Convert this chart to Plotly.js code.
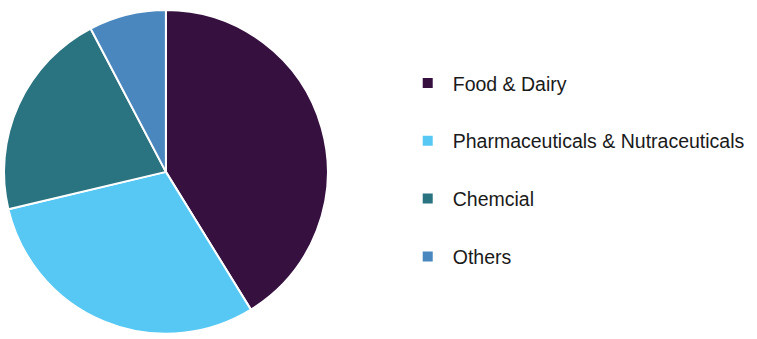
<!DOCTYPE html>
<html>
<head>
<meta charset="utf-8">
<script src="https://cdn.plot.ly/plotly-3.0.1.min.js"></script>
<style>html,body{margin:0;padding:0;background:#fff;}#chart{width:757px;height:339px;}</style>
</head>
<body>
<div id="chart"></div>
<script>
const categories = ["Food & Dairy", "Pharmaceuticals & Nutraceuticals", "Chemcial", "Others"];
const shares = [41.2, 30.1, 21.0, 7.7];
const colors = ["#36103F", "#56C8F3", "#2A7380", "#4A87BE"];

const traces = [{
  type: "pie",
  labels: categories,
  values: shares,
  sort: false,
  direction: "clockwise",
  rotation: 0,
  textinfo: "none",
  hoverinfo: "label+percent",
  marker: {colors: colors, line: {color: "#ffffff", width: 2}},
  domain: {x: [0.0053, 0.433], y: [0.008, 0.978]},
  showlegend: false
}];

categories.forEach((c, i) => {
  traces.push({
    type: "scatter",
    mode: "markers",
    x: [null], y: [null],
    name: c,
    legendgroup: "g" + i,
    marker: {symbol: "square", size: 10, color: colors[i]},
    showlegend: true,
    hoverinfo: "skip"
  });
});

const layout = {
  width: 757, height: 339,
  margin: {l: 0, r: 0, t: 0, b: 0},
  paper_bgcolor: "#ffffff",
  plot_bgcolor: "#ffffff",
  xaxis: {visible: false, domain: [0.6, 0.61]},
  yaxis: {visible: false, domain: [0.5, 0.51]},
  showlegend: true,
  legend: {
    x: 0.532, y: 0.812, xanchor: "left", yanchor: "top",
    tracegroupgap: 29.5,
    itemwidth: 40,
    font: {family: "Liberation Sans, Arial, sans-serif", size: 19.5, color: "#1a1a1a"},
    bgcolor: "rgba(0,0,0,0)"
  }
};

Plotly.newPlot("chart", traces, layout, {staticPlot: true});
</script>
</body>
</html>
